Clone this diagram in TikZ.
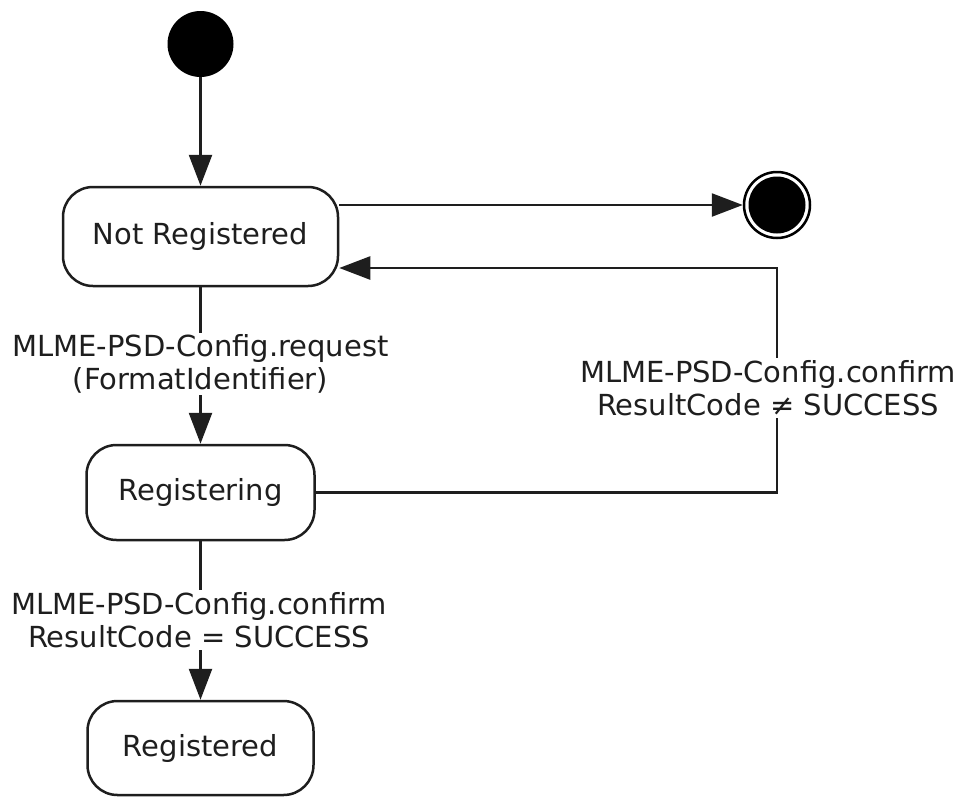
\documentclass[tikz,border=0pt]{standalone}
\usepackage{fontspec}
\setmainfont{DejaVu Sans}
\usetikzlibrary{arrows.meta,calc}
\definecolor{ink}{HTML}{1E1E1E}
\begin{document}
\begin{tikzpicture}[x=1pt,y=-1pt,
  every node/.style={text=ink,font=\fontsize{29}{33}\selectfont},
  state/.style={draw=ink,line width=2.5pt,rounded corners=30pt,fill=white,inner sep=0pt},
  conn/.style={draw=ink,line width=2.5pt},
  arr/.style={conn,-{Triangle[length=31pt,width=23pt]}},
  lbl/.style={fill=white,align=center,inner sep=2pt}]
\useasboundingbox (0,0) rectangle (964,796);
% pseudo states
\node[circle,fill=black,minimum size=66pt,inner sep=0pt] (start) at (200.5,44) {};
\node[circle,draw=black,line width=2.5pt,minimum size=66pt,inner sep=0pt] (fin) at (777,205) {};
\node[circle,fill=black,minimum size=57pt,inner sep=0pt] (finin) at (fin.center) {};
% states
\node[state,minimum width=275pt,minimum height=99pt] (nr) at (200.5,236.5) {Not Registered};
\node[state,minimum width=228pt,minimum height=95pt] (reg) at (200.5,492.5) {Registering};
\node[state,minimum width=226pt,minimum height=94pt] (done) at (200.5,748) {Registered};
% connectors
\draw[arr] (start) -- (nr);
\draw[arr] (nr.east |- fin) -- (fin);
\draw[arr] (nr) -- (reg);
\draw[arr] (reg) -- (done);
\coordinate (corner) at (777,268);
\draw[arr] (reg.east) -| (corner) -- (nr.east |- corner);
% labels
\node[lbl] (l1) at (200.5,364) {MLME-PSD-Config.request\\(FormatIdentifier)};
\node[lbl] (l2) at (768,388) {MLME-PSD-Config.confirm\\ResultCode ≠ SUCCESS};
\node[lbl] (l3) at (199,620) {MLME-PSD-Config.confirm\\ResultCode = SUCCESS};
\end{tikzpicture}
\end{document}
